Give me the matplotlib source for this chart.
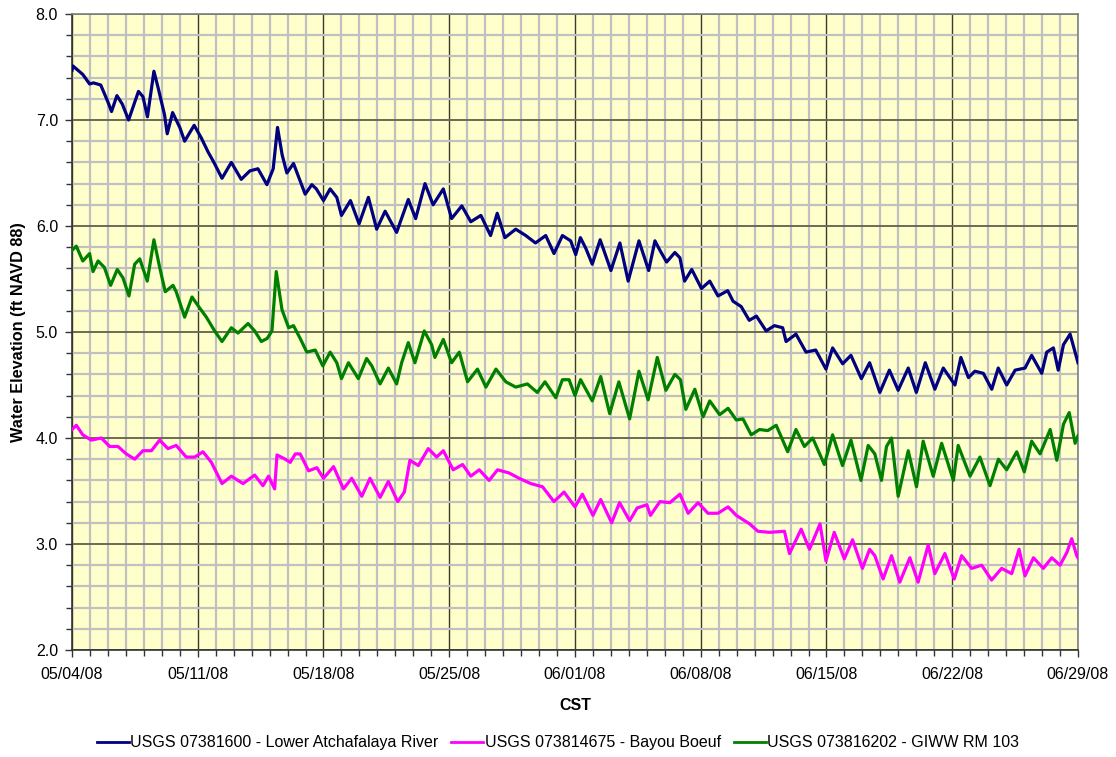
import datetime as dt
import matplotlib
matplotlib.use("Agg")
import matplotlib.pyplot as plt
import matplotlib.dates as mdates
from matplotlib.ticker import MultipleLocator, FormatStrFormatter

plt.rcParams['font.family'] = ['Liberation Sans', 'DejaVu Sans']

start = dt.datetime(2008, 5, 4)
end = dt.datetime(2008, 6, 29)

# Days since 05/04/08 and water elevation (ft NAVD 88)
atch_days = [0.0, 0.05, 0.6, 0.98, 1.2, 1.6, 2.0, 2.2, 2.5, 2.8, 3.15, 3.7, 3.95, 4.2, 4.56, 4.8,
             5.15, 5.3, 5.6, 6.0, 6.27, 6.8, 7.2, 7.57, 7.9, 8.35, 8.87, 9.42, 9.9, 10.35, 10.85,
             11.2, 11.44, 11.7, 11.96, 12.33, 12.6, 12.98, 13.35, 13.6, 14.0, 14.37, 14.74, 15.0,
             15.5, 15.98, 16.5, 16.96, 17.43, 18.07, 18.72, 19.13, 19.65, 20.1, 20.67, 21.13,
             21.7, 22.2, 22.76, 23.3, 23.67, 24.1, 24.7, 25.26, 25.8, 26.37, 26.83, 27.3, 27.76,
             28.04, 28.3, 28.6, 28.96, 29.4, 30.0, 30.5, 30.96, 31.56, 32.1, 32.45, 32.73, 33.1,
             33.56, 33.84, 34.1, 34.5, 35.04, 35.5, 35.96, 36.5, 36.8, 37.25, 37.7, 38.1, 38.64,
             39.1, 39.56, 39.75, 40.3, 40.86, 41.4, 41.97, 42.34, 42.9, 43.36, 43.94, 44.4,
             44.97, 45.5, 45.99, 46.55, 47.0, 47.5, 48.03, 48.5, 49.15, 49.48, 49.9, 50.26,
             50.73, 51.2, 51.56, 52.03, 52.5, 53.05, 53.42, 53.98, 54.26, 54.63, 54.9, 55.19,
             55.56, 55.84, 56.0]
atch_elev = [7.47, 7.51, 7.43, 7.34, 7.35, 7.33, 7.17, 7.08, 7.23, 7.15, 7.0, 7.27, 7.22, 7.03,
             7.46, 7.3, 7.05, 6.87, 7.07, 6.93, 6.8, 6.95, 6.83, 6.7, 6.6, 6.45, 6.6, 6.44, 6.52,
             6.54, 6.39, 6.54, 6.93, 6.67, 6.5, 6.59, 6.47, 6.3, 6.39, 6.35, 6.24, 6.35, 6.27,
             6.1, 6.24, 6.02, 6.27, 5.97, 6.14, 5.94, 6.25, 6.07, 6.4, 6.2, 6.35, 6.07, 6.19,
             6.04, 6.1, 5.91, 6.12, 5.89, 5.97, 5.91, 5.84, 5.91, 5.74, 5.91, 5.86, 5.73, 5.89,
             5.79, 5.64, 5.87, 5.58, 5.84, 5.48, 5.86, 5.58, 5.86, 5.77, 5.66, 5.75, 5.70, 5.48,
             5.59, 5.41, 5.48, 5.34, 5.39, 5.29, 5.24, 5.11, 5.15, 5.01, 5.06, 5.04, 4.91, 4.98,
             4.81, 4.83, 4.65, 4.85, 4.70, 4.78, 4.56, 4.71, 4.43, 4.64, 4.45, 4.66, 4.43, 4.71,
             4.46, 4.66, 4.50, 4.76, 4.57, 4.63, 4.61, 4.46, 4.66, 4.50, 4.64, 4.66, 4.78, 4.61,
             4.81, 4.85, 4.64, 4.88, 4.98, 4.81, 4.71]

boeuf_days = [0.0, 0.24, 0.6, 1.07, 1.63, 2.1, 2.56, 3.02, 3.49, 3.95, 4.42, 4.88, 5.34, 5.8,
              6.36, 6.83, 7.29, 7.76, 8.35, 8.87, 9.52, 10.17, 10.63, 10.94, 11.28, 11.41,
              11.87, 12.15, 12.43, 12.7, 13.17, 13.63, 14.0, 14.56, 15.11, 15.57, 16.13, 16.59,
              17.15, 17.61, 18.13, 18.5, 18.81, 19.28, 19.83, 20.3, 20.67, 21.22, 21.74, 22.2,
              22.67, 23.22, 23.69, 24.33, 24.89, 25.54, 26.19, 26.83, 27.39, 28.0, 28.41, 29.0,
              29.43, 30.04, 30.48, 31.04, 31.46, 32.0, 32.2, 32.73, 33.28, 33.84, 34.3, 34.85,
              35.4, 35.96, 36.52, 36.98, 37.72, 38.18, 38.83, 39.66, 39.94, 40.59, 41.05, 41.64,
              41.97, 42.43, 42.99, 43.45, 44.0, 44.4, 44.69, 45.15, 45.62, 46.08, 46.64, 47.1,
              47.66, 48.03, 48.59, 49.11, 49.52, 50.08, 50.64, 51.19, 51.75, 52.31, 52.72,
              53.05, 53.52, 54.07, 54.54, 55.0, 55.38, 55.65, 55.93, 56.0]
boeuf_elev = [4.08, 4.12, 4.03, 3.98, 4.0, 3.92, 3.92, 3.85, 3.80, 3.88, 3.88, 3.98, 3.90, 3.93,
              3.82, 3.82, 3.87, 3.77, 3.57, 3.64, 3.57, 3.65, 3.55, 3.64, 3.52, 3.84, 3.80,
              3.77, 3.85, 3.85, 3.69, 3.72, 3.62, 3.73, 3.52, 3.62, 3.45, 3.62, 3.44, 3.59,
              3.40, 3.49, 3.79, 3.74, 3.90, 3.82, 3.88, 3.70, 3.75, 3.64, 3.70, 3.60, 3.70,
              3.67, 3.62, 3.57, 3.54, 3.40, 3.49, 3.35, 3.47, 3.27, 3.42, 3.20, 3.39, 3.22,
              3.34, 3.37, 3.27, 3.40, 3.39, 3.47, 3.29, 3.39, 3.29, 3.29, 3.35, 3.27, 3.19,
              3.12, 3.11, 3.12, 2.91, 3.14, 2.95, 3.19, 2.84, 3.11, 2.86, 3.04, 2.77, 2.95,
              2.89, 2.67, 2.89, 2.64, 2.87, 2.64, 2.99, 2.72, 2.91, 2.67, 2.89, 2.77, 2.80,
              2.66, 2.77, 2.72, 2.95, 2.70, 2.87, 2.77, 2.87, 2.80, 2.92, 3.05, 2.89, 2.87]

giww_days = [0.0, 0.24, 0.6, 0.98, 1.17, 1.45, 1.8, 2.15, 2.52, 2.84, 3.17, 3.49, 3.77, 4.19,
             4.56, 4.88, 5.19, 5.62, 5.8, 6.27, 6.68, 7.05, 7.48, 7.94, 8.35, 8.87, 9.24, 9.8,
             10.17, 10.54, 10.87, 11.13, 11.37, 11.69, 12.06, 12.33, 12.7, 13.07, 13.54, 13.96,
             14.37, 14.74, 15.0, 15.39, 15.94, 16.4, 16.69, 17.15, 17.61, 18.07, 18.35, 18.72,
             19.09, 19.61, 20.02, 20.2, 20.67, 21.13, 21.56, 22.02, 22.57, 23.04, 23.6, 24.15,
             24.7, 25.35, 25.9, 26.33, 26.93, 27.3, 27.67, 28.0, 28.31, 28.96, 29.43, 29.93,
             30.44, 31.04, 31.56, 32.07, 32.58, 33.06, 33.56, 33.87, 34.17, 34.67, 35.13, 35.5,
             36.05, 36.52, 36.98, 37.35, 37.81, 38.27, 38.73, 39.2, 39.84, 40.3, 40.77, 41.23,
             41.88, 42.34, 42.89, 43.36, 43.92, 44.32, 44.69, 45.06, 45.34, 45.62, 45.99,
             46.55, 47.01, 47.38, 47.94, 48.41, 49.06, 49.33, 49.99, 50.54, 51.1, 51.57, 52.03,
             52.59, 53.01, 53.42, 53.89, 54.45, 54.82, 55.19, 55.51, 55.84, 56.0]
giww_elev = [5.77, 5.81, 5.67, 5.74, 5.57, 5.67, 5.61, 5.44, 5.59, 5.51, 5.34, 5.64, 5.69, 5.48,
             5.87, 5.61, 5.38, 5.44, 5.38, 5.14, 5.33, 5.24, 5.14, 5.01, 4.91, 5.04, 4.99, 5.08,
             5.01, 4.91, 4.94, 5.01, 5.57, 5.21, 5.04, 5.06, 4.94, 4.81, 4.83, 4.68, 4.81, 4.71,
             4.56, 4.71, 4.56, 4.75, 4.68, 4.51, 4.66, 4.51, 4.71, 4.90, 4.71, 5.01, 4.88, 4.76,
             4.93, 4.71, 4.81, 4.53, 4.65, 4.48, 4.65, 4.53, 4.48, 4.51, 4.43, 4.53, 4.38, 4.55,
             4.55, 4.40, 4.55, 4.35, 4.58, 4.23, 4.53, 4.18, 4.63, 4.36, 4.76, 4.45, 4.60, 4.55,
             4.27, 4.46, 4.20, 4.35, 4.22, 4.28, 4.17, 4.18, 4.03, 4.08, 4.07, 4.12, 3.87, 4.08,
             3.92, 4.0, 3.75, 4.03, 3.74, 3.98, 3.60, 3.93, 3.85, 3.60, 3.92, 4.0, 3.45, 3.88,
             3.54, 3.97, 3.64, 3.95, 3.60, 3.93, 3.64, 3.82, 3.55, 3.80, 3.70, 3.87, 3.68, 3.97,
             3.85, 4.08, 3.79, 4.13, 4.24, 3.95, 4.02]

series = [
    ("USGS 07381600 - Lower Atchafalaya River", atch_days, atch_elev, "#000080"),
    ("USGS 073814675 - Bayou Boeuf", boeuf_days, boeuf_elev, "#FF00FF"),
    ("USGS 073816202 - GIWW RM 103", giww_days, giww_elev, "#008000"),
]

fig = plt.figure(figsize=(11.16, 7.57), dpi=100)
ax = fig.add_axes([72 / 1116, 1 - 650 / 757, (1078 - 72) / 1116, (650 - 14) / 757])
ax.set_facecolor("#FFFFCC")

for label, days, elev, color in series:
    times = [start + dt.timedelta(days=d) for d in days]
    ax.plot(times, elev, color=color, lw=2.3, label=label, solid_joinstyle="round", zorder=3)

ax.set_xlim(start, end)
ax.set_ylim(2.0, 8.0)

# Weekly major ticks (Sundays) with daily minor ticks
ax.xaxis.set_major_locator(mdates.WeekdayLocator(byweekday=mdates.SU))
ax.xaxis.set_minor_locator(mdates.DayLocator())
ax.xaxis.set_major_formatter(mdates.DateFormatter("%m/%d/%y"))
ax.yaxis.set_major_locator(MultipleLocator(1.0))
ax.yaxis.set_minor_locator(MultipleLocator(0.2))
ax.yaxis.set_major_formatter(FormatStrFormatter("%.1f"))

ax.grid(which="minor", color="#C0C0C0", lw=1.6, zorder=1)
ax.grid(which="major", axis="y", color="#6B6B55", lw=1.4, zorder=2)
ax.grid(which="major", axis="x", color="#3A3A30", lw=1.0, zorder=2)
ax.set_axisbelow(True)

for side in ("left", "bottom"):
    ax.spines[side].set_color("#333333")
    ax.spines[side].set_linewidth(1.2)
for side in ("top", "right"):
    ax.spines[side].set_color("#808080")
    ax.spines[side].set_linewidth(1.2)

ax.tick_params(which="major", direction="out", length=5, width=1.0, color="#333333",
               labelsize=11.5, pad=5)
ax.tick_params(which="minor", direction="out", length=4, width=1.0, color="#333333")
ax.tick_params(axis="x", which="major", pad=7)

ax.set_ylabel("Water Elevation (ft NAVD 88)", fontsize=11.7, fontweight="bold", labelpad=7)
ax.set_xlabel("CST", fontsize=11.5, fontweight="bold", labelpad=12)

leg = fig.legend(loc="lower center", bbox_to_anchor=(0.5, -0.01), ncol=3, frameon=False,
                 fontsize=11.5, handlelength=2.0, handletextpad=0.1, columnspacing=0.8)
for line in leg.get_lines():
    line.set_linewidth(2.0)

fig.savefig("out.png", dpi=100, facecolor="white")
